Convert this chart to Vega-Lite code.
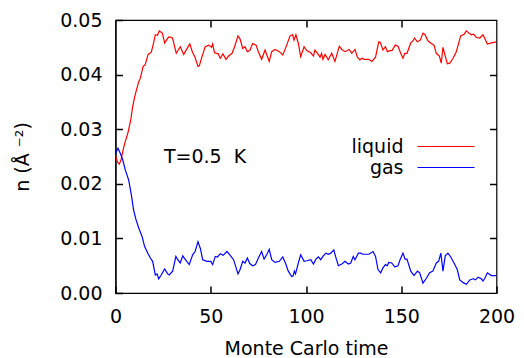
{
  "$schema": "https://vega.github.io/schema/vega-lite/v6.json",
  "width": 381,
  "height": 273,
  "autosize": {"type": "none"},
  "padding": {"left": 115.5, "top": 20, "right": 27.5, "bottom": 65},
  "background": "white",
  "config": {
    "font": "DejaVu Sans",
    "view": {"stroke": "black", "strokeWidth": 1.2},
    "axis": {
      "grid": false,
      "domainColor": "black",
      "domainWidth": 1.2,
      "ticks": true,
      "tickColor": "black",
      "tickWidth": 1.5,
      "tickSize": -7,
      "labelFont": "DejaVu Sans",
      "labelFontSize": 19,
      "labelColor": "black",
      "titleFont": "DejaVu Sans",
      "titleFontSize": 19,
      "titleFontWeight": "normal",
      "titleColor": "black"
    }
  },
  "datasets": {
    "series": [
      {"t": 0, "n": 0.0252, "s": "liquid"},
      {"t": 1, "n": 0.0240, "s": "liquid"},
      {"t": 2, "n": 0.0236, "s": "liquid"},
      {"t": 3, "n": 0.0245, "s": "liquid"},
      {"t": 4, "n": 0.0262, "s": "liquid"},
      {"t": 5, "n": 0.0276, "s": "liquid"},
      {"t": 6.5, "n": 0.0293, "s": "liquid"},
      {"t": 8, "n": 0.0317, "s": "liquid"},
      {"t": 9, "n": 0.0341, "s": "liquid"},
      {"t": 10, "n": 0.0358, "s": "liquid"},
      {"t": 11, "n": 0.0372, "s": "liquid"},
      {"t": 12.2, "n": 0.0387, "s": "liquid"},
      {"t": 13, "n": 0.0393, "s": "liquid"},
      {"t": 14.5, "n": 0.0415, "s": "liquid"},
      {"t": 15.6, "n": 0.0418, "s": "liquid"},
      {"t": 17.1, "n": 0.0437, "s": "liquid"},
      {"t": 18.8, "n": 0.0441, "s": "liquid"},
      {"t": 20, "n": 0.0458, "s": "liquid"},
      {"t": 20.9, "n": 0.0473, "s": "liquid"},
      {"t": 22, "n": 0.0472, "s": "liquid"},
      {"t": 23, "n": 0.0480, "s": "liquid"},
      {"t": 24.6, "n": 0.0476, "s": "liquid"},
      {"t": 25.8, "n": 0.0458, "s": "liquid"},
      {"t": 27.9, "n": 0.0469, "s": "liquid"},
      {"t": 29.7, "n": 0.0468, "s": "liquid"},
      {"t": 30.3, "n": 0.0462, "s": "liquid"},
      {"t": 31.9, "n": 0.0439, "s": "liquid"},
      {"t": 34, "n": 0.0451, "s": "liquid"},
      {"t": 35.8, "n": 0.0437, "s": "liquid"},
      {"t": 37.6, "n": 0.0448, "s": "liquid"},
      {"t": 39, "n": 0.0456, "s": "liquid"},
      {"t": 40.5, "n": 0.0440, "s": "liquid"},
      {"t": 41.6, "n": 0.0433, "s": "liquid"},
      {"t": 43.3, "n": 0.0415, "s": "liquid"},
      {"t": 44, "n": 0.0416, "s": "liquid"},
      {"t": 45.4, "n": 0.0433, "s": "liquid"},
      {"t": 47.1, "n": 0.0451, "s": "liquid"},
      {"t": 48.9, "n": 0.0454, "s": "liquid"},
      {"t": 50.4, "n": 0.0450, "s": "liquid"},
      {"t": 51, "n": 0.0456, "s": "liquid"},
      {"t": 52, "n": 0.0440, "s": "liquid"},
      {"t": 53.9, "n": 0.0438, "s": "liquid"},
      {"t": 55, "n": 0.0430, "s": "liquid"},
      {"t": 56.4, "n": 0.0438, "s": "liquid"},
      {"t": 58, "n": 0.0428, "s": "liquid"},
      {"t": 59.4, "n": 0.0434, "s": "liquid"},
      {"t": 61.2, "n": 0.0439, "s": "liquid"},
      {"t": 62.6, "n": 0.0452, "s": "liquid"},
      {"t": 64.3, "n": 0.0471, "s": "liquid"},
      {"t": 65.4, "n": 0.0465, "s": "liquid"},
      {"t": 66.8, "n": 0.0448, "s": "liquid"},
      {"t": 68, "n": 0.0451, "s": "liquid"},
      {"t": 69.2, "n": 0.0442, "s": "liquid"},
      {"t": 70.5, "n": 0.0444, "s": "liquid"},
      {"t": 72, "n": 0.0457, "s": "liquid"},
      {"t": 73.8, "n": 0.0454, "s": "liquid"},
      {"t": 75, "n": 0.0442, "s": "liquid"},
      {"t": 76.7, "n": 0.0428, "s": "liquid"},
      {"t": 78.5, "n": 0.0445, "s": "liquid"},
      {"t": 80.7, "n": 0.0424, "s": "liquid"},
      {"t": 82, "n": 0.0442, "s": "liquid"},
      {"t": 83.7, "n": 0.0446, "s": "liquid"},
      {"t": 86, "n": 0.0442, "s": "liquid"},
      {"t": 87.8, "n": 0.0436, "s": "liquid"},
      {"t": 89.9, "n": 0.0454, "s": "liquid"},
      {"t": 91.6, "n": 0.0471, "s": "liquid"},
      {"t": 93, "n": 0.0473, "s": "liquid"},
      {"t": 93.7, "n": 0.0463, "s": "liquid"},
      {"t": 94.7, "n": 0.0473, "s": "liquid"},
      {"t": 96, "n": 0.0457, "s": "liquid"},
      {"t": 97.2, "n": 0.0433, "s": "liquid"},
      {"t": 99, "n": 0.0451, "s": "liquid"},
      {"t": 100.4, "n": 0.0444, "s": "liquid"},
      {"t": 102.5, "n": 0.0440, "s": "liquid"},
      {"t": 103.9, "n": 0.0434, "s": "liquid"},
      {"t": 104.7, "n": 0.0445, "s": "liquid"},
      {"t": 106.1, "n": 0.0439, "s": "liquid"},
      {"t": 107.4, "n": 0.0432, "s": "liquid"},
      {"t": 108.2, "n": 0.0439, "s": "liquid"},
      {"t": 108.9, "n": 0.0428, "s": "liquid"},
      {"t": 110, "n": 0.0437, "s": "liquid"},
      {"t": 111.7, "n": 0.0427, "s": "liquid"},
      {"t": 113.5, "n": 0.0439, "s": "liquid"},
      {"t": 115.2, "n": 0.0424, "s": "liquid"},
      {"t": 117.5, "n": 0.0452, "s": "liquid"},
      {"t": 118.8, "n": 0.0446, "s": "liquid"},
      {"t": 120.5, "n": 0.0442, "s": "liquid"},
      {"t": 122.7, "n": 0.0446, "s": "liquid"},
      {"t": 124, "n": 0.0439, "s": "liquid"},
      {"t": 125.7, "n": 0.0446, "s": "liquid"},
      {"t": 127, "n": 0.0432, "s": "liquid"},
      {"t": 128.3, "n": 0.0427, "s": "liquid"},
      {"t": 129.5, "n": 0.0430, "s": "liquid"},
      {"t": 130.5, "n": 0.0428, "s": "liquid"},
      {"t": 133, "n": 0.0428, "s": "liquid"},
      {"t": 134.6, "n": 0.0424, "s": "liquid"},
      {"t": 136.5, "n": 0.0432, "s": "liquid"},
      {"t": 138.2, "n": 0.0460, "s": "liquid"},
      {"t": 139, "n": 0.0459, "s": "liquid"},
      {"t": 140.4, "n": 0.0445, "s": "liquid"},
      {"t": 141.7, "n": 0.0451, "s": "liquid"},
      {"t": 142.7, "n": 0.0442, "s": "liquid"},
      {"t": 144, "n": 0.0444, "s": "liquid"},
      {"t": 145.1, "n": 0.0444, "s": "liquid"},
      {"t": 146.9, "n": 0.0454, "s": "liquid"},
      {"t": 148.3, "n": 0.0452, "s": "liquid"},
      {"t": 149.7, "n": 0.0439, "s": "liquid"},
      {"t": 150.9, "n": 0.0430, "s": "liquid"},
      {"t": 151.9, "n": 0.0439, "s": "liquid"},
      {"t": 153, "n": 0.0439, "s": "liquid"},
      {"t": 155, "n": 0.0458, "s": "liquid"},
      {"t": 156.2, "n": 0.0462, "s": "liquid"},
      {"t": 157, "n": 0.0467, "s": "liquid"},
      {"t": 158.4, "n": 0.0460, "s": "liquid"},
      {"t": 160, "n": 0.0463, "s": "liquid"},
      {"t": 161.4, "n": 0.0476, "s": "liquid"},
      {"t": 162.5, "n": 0.0473, "s": "liquid"},
      {"t": 164, "n": 0.0462, "s": "liquid"},
      {"t": 165.8, "n": 0.0457, "s": "liquid"},
      {"t": 167.2, "n": 0.0454, "s": "liquid"},
      {"t": 168.4, "n": 0.0439, "s": "liquid"},
      {"t": 170, "n": 0.0434, "s": "liquid"},
      {"t": 171, "n": 0.0421, "s": "liquid"},
      {"t": 171.9, "n": 0.0450, "s": "liquid"},
      {"t": 172.8, "n": 0.0438, "s": "liquid"},
      {"t": 174.2, "n": 0.0420, "s": "liquid"},
      {"t": 175.5, "n": 0.0421, "s": "liquid"},
      {"t": 177.2, "n": 0.0430, "s": "liquid"},
      {"t": 178.9, "n": 0.0442, "s": "liquid"},
      {"t": 181.2, "n": 0.0471, "s": "liquid"},
      {"t": 183, "n": 0.0474, "s": "liquid"},
      {"t": 184.2, "n": 0.0480, "s": "liquid"},
      {"t": 185.5, "n": 0.0476, "s": "liquid"},
      {"t": 186.8, "n": 0.0473, "s": "liquid"},
      {"t": 188, "n": 0.0474, "s": "liquid"},
      {"t": 189.4, "n": 0.0468, "s": "liquid"},
      {"t": 191.2, "n": 0.0467, "s": "liquid"},
      {"t": 192.9, "n": 0.0473, "s": "liquid"},
      {"t": 194, "n": 0.0465, "s": "liquid"},
      {"t": 195.2, "n": 0.0456, "s": "liquid"},
      {"t": 197.3, "n": 0.0458, "s": "liquid"},
      {"t": 200, "n": 0.0460, "s": "liquid"},
      {"t": 0, "n": 0.0255, "s": "gas"},
      {"t": 1.3, "n": 0.0265, "s": "gas"},
      {"t": 2.5, "n": 0.0256, "s": "gas"},
      {"t": 3.8, "n": 0.0244, "s": "gas"},
      {"t": 5.1, "n": 0.0226, "s": "gas"},
      {"t": 6.9, "n": 0.0207, "s": "gas"},
      {"t": 8.3, "n": 0.0180, "s": "gas"},
      {"t": 9.5, "n": 0.0152, "s": "gas"},
      {"t": 10.8, "n": 0.0134, "s": "gas"},
      {"t": 12.2, "n": 0.0119, "s": "gas"},
      {"t": 13.9, "n": 0.0104, "s": "gas"},
      {"t": 15.3, "n": 0.0085, "s": "gas"},
      {"t": 17.1, "n": 0.0072, "s": "gas"},
      {"t": 18.3, "n": 0.0064, "s": "gas"},
      {"t": 19.5, "n": 0.0058, "s": "gas"},
      {"t": 20.9, "n": 0.0033, "s": "gas"},
      {"t": 21.8, "n": 0.0035, "s": "gas"},
      {"t": 22.7, "n": 0.0026, "s": "gas"},
      {"t": 24, "n": 0.0033, "s": "gas"},
      {"t": 25.8, "n": 0.0044, "s": "gas"},
      {"t": 27.4, "n": 0.0035, "s": "gas"},
      {"t": 28.2, "n": 0.0033, "s": "gas"},
      {"t": 30, "n": 0.0040, "s": "gas"},
      {"t": 31.7, "n": 0.0067, "s": "gas"},
      {"t": 32.5, "n": 0.0062, "s": "gas"},
      {"t": 34, "n": 0.0055, "s": "gas"},
      {"t": 35.3, "n": 0.0068, "s": "gas"},
      {"t": 36.5, "n": 0.0062, "s": "gas"},
      {"t": 38.7, "n": 0.0052, "s": "gas"},
      {"t": 40.5, "n": 0.0070, "s": "gas"},
      {"t": 41.8, "n": 0.0076, "s": "gas"},
      {"t": 43.3, "n": 0.0094, "s": "gas"},
      {"t": 44.5, "n": 0.0082, "s": "gas"},
      {"t": 45.8, "n": 0.0061, "s": "gas"},
      {"t": 48, "n": 0.0058, "s": "gas"},
      {"t": 50, "n": 0.0058, "s": "gas"},
      {"t": 51, "n": 0.0052, "s": "gas"},
      {"t": 52.4, "n": 0.0067, "s": "gas"},
      {"t": 53.5, "n": 0.0066, "s": "gas"},
      {"t": 55, "n": 0.0072, "s": "gas"},
      {"t": 56.5, "n": 0.0069, "s": "gas"},
      {"t": 58.5, "n": 0.0076, "s": "gas"},
      {"t": 60, "n": 0.0070, "s": "gas"},
      {"t": 62, "n": 0.0061, "s": "gas"},
      {"t": 64.3, "n": 0.0035, "s": "gas"},
      {"t": 65.4, "n": 0.0043, "s": "gas"},
      {"t": 66.8, "n": 0.0058, "s": "gas"},
      {"t": 68, "n": 0.0055, "s": "gas"},
      {"t": 69.2, "n": 0.0064, "s": "gas"},
      {"t": 70.5, "n": 0.0054, "s": "gas"},
      {"t": 72, "n": 0.0050, "s": "gas"},
      {"t": 73.5, "n": 0.0052, "s": "gas"},
      {"t": 75, "n": 0.0064, "s": "gas"},
      {"t": 76.7, "n": 0.0076, "s": "gas"},
      {"t": 78, "n": 0.0062, "s": "gas"},
      {"t": 79.5, "n": 0.0071, "s": "gas"},
      {"t": 80.7, "n": 0.0080, "s": "gas"},
      {"t": 82, "n": 0.0061, "s": "gas"},
      {"t": 83.7, "n": 0.0056, "s": "gas"},
      {"t": 86, "n": 0.0058, "s": "gas"},
      {"t": 87.8, "n": 0.0066, "s": "gas"},
      {"t": 89.3, "n": 0.0054, "s": "gas"},
      {"t": 90.7, "n": 0.0040, "s": "gas"},
      {"t": 92.5, "n": 0.0030, "s": "gas"},
      {"t": 93.2, "n": 0.0031, "s": "gas"},
      {"t": 93.9, "n": 0.0040, "s": "gas"},
      {"t": 94.5, "n": 0.0035, "s": "gas"},
      {"t": 96, "n": 0.0055, "s": "gas"},
      {"t": 97.2, "n": 0.0070, "s": "gas"},
      {"t": 99, "n": 0.0058, "s": "gas"},
      {"t": 100.4, "n": 0.0059, "s": "gas"},
      {"t": 102.5, "n": 0.0061, "s": "gas"},
      {"t": 103.9, "n": 0.0053, "s": "gas"},
      {"t": 105.2, "n": 0.0062, "s": "gas"},
      {"t": 106.5, "n": 0.0066, "s": "gas"},
      {"t": 107.7, "n": 0.0061, "s": "gas"},
      {"t": 109.1, "n": 0.0068, "s": "gas"},
      {"t": 110.5, "n": 0.0073, "s": "gas"},
      {"t": 111.7, "n": 0.0071, "s": "gas"},
      {"t": 113, "n": 0.0073, "s": "gas"},
      {"t": 114.6, "n": 0.0079, "s": "gas"},
      {"t": 115.5, "n": 0.0067, "s": "gas"},
      {"t": 117, "n": 0.0050, "s": "gas"},
      {"t": 118.8, "n": 0.0053, "s": "gas"},
      {"t": 120.5, "n": 0.0058, "s": "gas"},
      {"t": 122.2, "n": 0.0053, "s": "gas"},
      {"t": 123.5, "n": 0.0055, "s": "gas"},
      {"t": 124.8, "n": 0.0067, "s": "gas"},
      {"t": 125.7, "n": 0.0061, "s": "gas"},
      {"t": 127.5, "n": 0.0073, "s": "gas"},
      {"t": 128.7, "n": 0.0073, "s": "gas"},
      {"t": 129.8, "n": 0.0071, "s": "gas"},
      {"t": 133, "n": 0.0071, "s": "gas"},
      {"t": 135.2, "n": 0.0076, "s": "gas"},
      {"t": 136.5, "n": 0.0067, "s": "gas"},
      {"t": 137.8, "n": 0.0043, "s": "gas"},
      {"t": 139.2, "n": 0.0037, "s": "gas"},
      {"t": 140.4, "n": 0.0046, "s": "gas"},
      {"t": 141.7, "n": 0.0052, "s": "gas"},
      {"t": 142.7, "n": 0.0050, "s": "gas"},
      {"t": 143.4, "n": 0.0056, "s": "gas"},
      {"t": 145, "n": 0.0055, "s": "gas"},
      {"t": 146.6, "n": 0.0048, "s": "gas"},
      {"t": 148.3, "n": 0.0050, "s": "gas"},
      {"t": 149.5, "n": 0.0062, "s": "gas"},
      {"t": 150.9, "n": 0.0073, "s": "gas"},
      {"t": 152, "n": 0.0062, "s": "gas"},
      {"t": 153, "n": 0.0062, "s": "gas"},
      {"t": 155, "n": 0.0040, "s": "gas"},
      {"t": 156.7, "n": 0.0032, "s": "gas"},
      {"t": 158.5, "n": 0.0040, "s": "gas"},
      {"t": 159.7, "n": 0.0037, "s": "gas"},
      {"t": 161.4, "n": 0.0018, "s": "gas"},
      {"t": 163.2, "n": 0.0027, "s": "gas"},
      {"t": 164.9, "n": 0.0037, "s": "gas"},
      {"t": 166.6, "n": 0.0040, "s": "gas"},
      {"t": 168.4, "n": 0.0055, "s": "gas"},
      {"t": 169.6, "n": 0.0058, "s": "gas"},
      {"t": 170.8, "n": 0.0073, "s": "gas"},
      {"t": 171.9, "n": 0.0040, "s": "gas"},
      {"t": 173.1, "n": 0.0068, "s": "gas"},
      {"t": 174.5, "n": 0.0073, "s": "gas"},
      {"t": 176, "n": 0.0066, "s": "gas"},
      {"t": 177.7, "n": 0.0055, "s": "gas"},
      {"t": 179.4, "n": 0.0043, "s": "gas"},
      {"t": 180.7, "n": 0.0024, "s": "gas"},
      {"t": 182.5, "n": 0.0019, "s": "gas"},
      {"t": 184.2, "n": 0.0016, "s": "gas"},
      {"t": 186, "n": 0.0024, "s": "gas"},
      {"t": 187.7, "n": 0.0026, "s": "gas"},
      {"t": 189, "n": 0.0024, "s": "gas"},
      {"t": 190.3, "n": 0.0029, "s": "gas"},
      {"t": 192, "n": 0.0026, "s": "gas"},
      {"t": 192.9, "n": 0.0022, "s": "gas"},
      {"t": 194, "n": 0.0028, "s": "gas"},
      {"t": 195.2, "n": 0.0037, "s": "gas"},
      {"t": 197.3, "n": 0.0032, "s": "gas"},
      {"t": 200, "n": 0.0032, "s": "gas"}
    ]
  },
  "layer": [
    {
      "data": {"name": "series"},
      "mark": {"type": "line", "strokeOpacity": 0},
      "encoding": {
        "x": {
          "field": "t", "type": "quantitative",
          "scale": {"domain": [0, 200], "nice": false, "zero": false},
          "axis": {"orient": "top", "values": [50, 100, 150], "labels": false, "domain": false, "title": null, "ticks": true, "tickSize": -7, "tickWidth": 1.5, "tickColor": "black"}
        },
        "y": {
          "field": "n", "type": "quantitative",
          "scale": {"domain": [0, 0.05], "nice": false, "zero": false},
          "axis": {"orient": "right", "values": [0.01, 0.02, 0.03, 0.04], "labels": false, "domain": false, "title": null, "ticks": true, "tickSize": -7, "tickWidth": 1.5, "tickColor": "black"}
        },
        "detail": {"field": "s"}
      }
    },
    {
      "data": {"name": "series"},
      "mark": {"type": "line", "strokeWidth": 1.2, "clip": true},
      "encoding": {
        "x": {
          "field": "t", "type": "quantitative",
          "axis": {"orient": "bottom", "values": [0, 50, 100, 150, 200], "title": "Monte Carlo time", "ticks": true, "tickSize": -7, "tickWidth": 1.5, "tickColor": "black", "labelPadding": 21, "titlePadding": 13, "labelFlush": false}
        },
        "y": {
          "field": "n", "type": "quantitative",
          "axis": {"orient": "left", "values": [0, 0.01, 0.02, 0.03, 0.04, 0.05], "format": ".2f", "title": "n (Å ⁻²)", "ticks": true, "tickSize": -7, "tickWidth": 1.5, "tickColor": "black", "labelPadding": 20.5, "titlePadding": 27, "labelFlush": false}
        },
        "color": {
          "field": "s", "type": "nominal",
          "scale": {"domain": ["liquid", "gas"], "range": ["#ff0000", "#0000ff"]},
          "legend": {
            "orient": "none", "legendX": 320, "legendY": 116, "title": null, "padding": 0,
            "symbolType": "M-3,0H3", "symbolSize": 361, "symbolStrokeWidth": 1.2,
            "labelAlign": "right", "labelOffset": -53, "labelFontSize": 19, "labelFont": "DejaVu Sans",
            "labelColor": "black", "rowPadding": 0
          }
        }
      }
    },
    {
      "data": {"values": [{}]},
      "mark": {"type": "text", "fontSize": 19, "font": "DejaVu Sans", "color": "black", "align": "center", "baseline": "middle"},
      "encoding": {
        "x": {"datum": 47, "type": "quantitative", "axis": null},
        "y": {"datum": 0.0249, "type": "quantitative", "axis": null},
        "text": {"value": "T=0.5\u00a0 K"}
      }
    }
  ],
  "resolve": {"axis": {"x": "independent", "y": "independent"}}
}
